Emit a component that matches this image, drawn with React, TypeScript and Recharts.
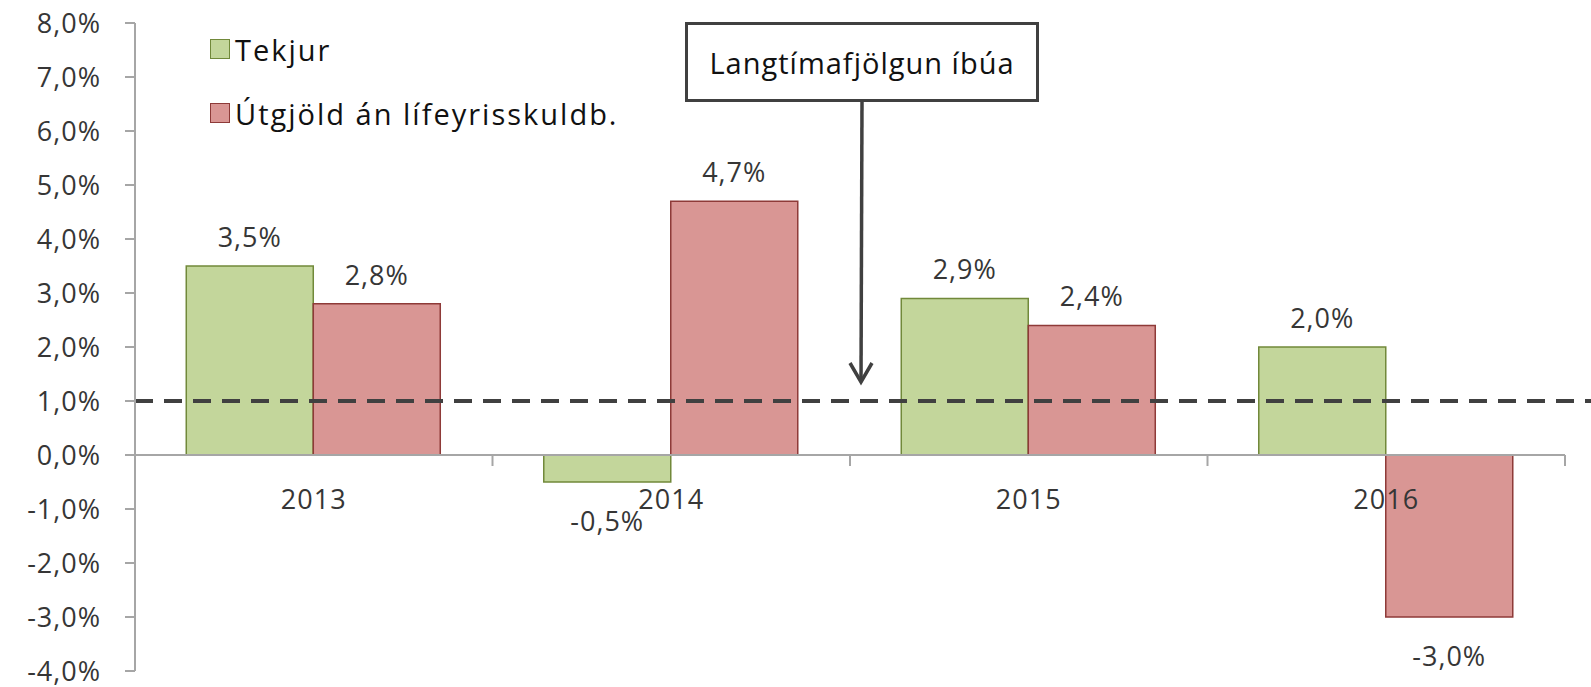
import { Bar, BarChart, LabelList, Legend, ReferenceLine, XAxis, YAxis } from "recharts";

const years = ["2013", "2014", "2015", "2016"];
const tekjur = [3.5, -0.5, 2.9, 2.0];
const utgjold = [2.8, 4.7, 2.4, -3.0];
const yTicks = [-4, -3, -2, -1, 0, 1, 2, 3, 4, 5, 6, 7, 8];
const longTermGrowth = 1.0;
const seriesNames = ["Tekjur", "Útgjöld án lífeyrisskuldb."];
const annotationText = "Langtímafjölgun íbúa";

const data = years.map((year, i) => ({ year, tekjur: tekjur[i], utgjold: utgjold[i] }));

const W = 1591;
const H = 687;
const MARGIN = { top: 23, right: 26, bottom: 15, left: 0 };
const Y_AXIS_W = 135;
const X_AXIS_H = 1;
const Y_MIN = yTicks[0];
const Y_MAX = yTicks[yTicks.length - 1];
const PLOT_LEFT = MARGIN.left + Y_AXIS_W;
const PLOT_W = W - MARGIN.right - PLOT_LEFT;
const PLOT_H = H - MARGIN.top - MARGIN.bottom - X_AXIS_H;
const Y_ZERO = MARGIN.top + (Y_MAX / (Y_MAX - Y_MIN)) * PLOT_H;
const BAND = PLOT_W / years.length;

const FONT = '"Open Sans", "Liberation Sans", sans-serif';
const TEXT = "#363636";
const AXIS = "#a6a6a6";
const GREEN = { fill: "#c3d69b", stroke: "#71893a" };
const RED = { fill: "#d99694", stroke: "#8e3a38" };

const fmt = (v: number) => v.toFixed(1).replace(".", ",") + "%";

function YearTick({ x, payload }: any) {
  const edge = x + BAND / 2;
  return (
    <g>
      <line x1={edge} y1={Y_ZERO} x2={edge} y2={Y_ZERO + 11} stroke={AXIS} strokeWidth={2} />
      <text
        x={x}
        y={Y_ZERO + 54}
        textAnchor="middle"
        fill={TEXT}
        fontSize={27}
        fontFamily={FONT}
        letterSpacing={1}
      >
        {payload.value}
      </text>
    </g>
  );
}

function ValueLabel(props: any) {
  const { x, y, width, height, value } = props;
  const top = Math.min(y, y + height);
  const bottom = Math.max(y, y + height);
  const ty = value >= 0 ? top - 19 : bottom + 49;
  return (
    <text
      x={x + width / 2}
      y={ty}
      textAnchor="middle"
      fill={TEXT}
      fontSize={27}
      fontFamily={FONT}
      letterSpacing={1}
    >
      {fmt(value)}
    </text>
  );
}

function LegendBox() {
  const colors = [GREEN, RED];
  return (
    <div style={{ fontFamily: FONT, fontSize: 29, color: "#111" }}>
      {seriesNames.map((name, i) => (
        <div key={name} style={{ display: "flex", alignItems: "center", height: 64 }}>
          <span
            style={{
              display: "inline-block",
              width: 20,
              height: 20,
              boxSizing: "border-box",
              background: colors[i].fill,
              border: `1.5px solid ${colors[i].stroke}`,
              marginRight: 5,
            }}
          />
          <span style={{ letterSpacing: 2, whiteSpace: "nowrap" }}>{name}</span>
        </div>
      ))}
    </div>
  );
}

function DashedLine(p: any) {
  return (
    <line
      x1={p.x1}
      y1={p.y1}
      x2={W}
      y2={p.y2}
      stroke="#404040"
      strokeWidth={4}
      strokeDasharray="18 11"
    />
  );
}

export default function App() {
  return (
    <div style={{ position: "relative", width: W, height: H, background: "#fff" }}>
      <style>{"body{margin:0}"}</style>
      <BarChart
        width={W}
        height={H}
        data={data}
        margin={MARGIN}
        barCategoryGap="14.34%"
        barGap={0}
      >
        <XAxis
          dataKey="year"
          height={X_AXIS_H}
          axisLine={false}
          tickLine={false}
          tick={<YearTick />}
          interval={0}
        />
        <YAxis
          type="number"
          domain={[Y_MIN, Y_MAX]}
          ticks={yTicks}
          interval={0}
          width={Y_AXIS_W}
          tickFormatter={fmt}
          tick={{ fill: TEXT, fontSize: 27, fontFamily: FONT, letterSpacing: 1 }}
          axisLine={{ stroke: AXIS, strokeWidth: 2 }}
          tickLine={{ stroke: AXIS, strokeWidth: 2 }}
          tickSize={10}
          tickMargin={24}
          allowDataOverflow
        />
        <Legend
          layout="vertical"
          align="center"
          verticalAlign="middle"
          wrapperStyle={{ left: 210, top: 17, width: "auto", height: "auto" }}
          content={<LegendBox />}
        />
        <ReferenceLine y={0} stroke={AXIS} strokeWidth={2} />
        <Bar
          dataKey="tekjur"
          name={seriesNames[0]}
          fill={GREEN.fill}
          stroke={GREEN.stroke}
          strokeWidth={1.5}
          isAnimationActive={false}
        >
          <LabelList dataKey="tekjur" content={<ValueLabel />} />
        </Bar>
        <Bar
          dataKey="utgjold"
          name={seriesNames[1]}
          fill={RED.fill}
          stroke={RED.stroke}
          strokeWidth={1.5}
          isAnimationActive={false}
        >
          <LabelList dataKey="utgjold" content={<ValueLabel />} />
        </Bar>
        <ReferenceLine y={longTermGrowth} ifOverflow="visible" shape={<DashedLine />} />
      </BarChart>

      {/* annotation box + arrow */}
      <div
        style={{
          position: "absolute",
          left: 685,
          top: 22,
          width: 354,
          height: 80,
          boxSizing: "border-box",
          border: "3px solid #404040",
          background: "#fff",
          display: "flex",
          alignItems: "center",
          justifyContent: "center",
          fontFamily: FONT,
          fontSize: 29,
          letterSpacing: 1,
          color: "#111",
        }}
      >
        {annotationText}
      </div>
      <svg
        width={W}
        height={H}
        style={{ position: "absolute", left: 0, top: 0, pointerEvents: "none" }}
      >
        <line x1={862} y1={102} x2={861} y2={381} stroke="#404040" strokeWidth={3.5} />
        <polyline
          points="850,363 861,382 872,363"
          fill="none"
          stroke="#404040"
          strokeWidth={3.5}
        />
      </svg>
    </div>
  );
}
